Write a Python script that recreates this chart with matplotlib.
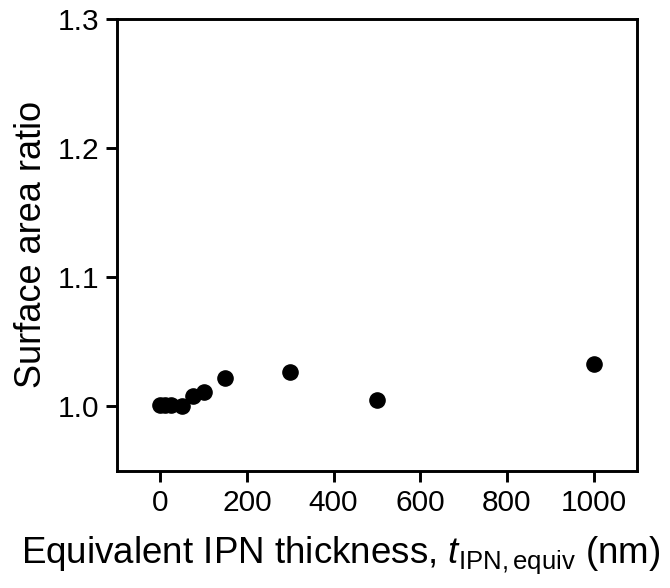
import matplotlib
matplotlib.use("Agg")
import matplotlib.pyplot as plt

plt.rcParams['font.family'] = ['Liberation Sans', 'DejaVu Sans']
plt.rcParams['mathtext.fontset'] = 'custom'
plt.rcParams['mathtext.rm'] = 'Liberation Sans'
plt.rcParams['mathtext.it'] = 'Liberation Sans:italic'

# Data
thickness = [0, 10, 25, 50, 75, 100, 150, 300, 500, 1000]
area_ratio = [1.001, 1.001, 1.001, 1.000, 1.008, 1.011, 1.022, 1.027, 1.005, 1.033]
x_ticks = [0, 200, 400, 600, 800, 1000]
y_ticks = [1.0, 1.1, 1.2, 1.3]

fig = plt.figure(figsize=(6.7, 5.88), dpi=100)
ax = fig.add_axes([0.1746, 0.199, 0.776, 0.769])

ax.scatter(thickness, area_ratio, s=120, color='black', zorder=3)

ax.set_xlim(-100, 1100)
ax.set_ylim(0.95, 1.3)
ax.set_xticks(x_ticks)
ax.set_yticks(y_ticks)
ax.set_yticklabels([f"{v:.1f}" for v in y_ticks])

for sp in ax.spines.values():
    sp.set_linewidth(2.1)
ax.tick_params(direction='out', length=8, width=2.1, labelsize=21.5, pad=5)

ax.set_xlabel(r"Equivalent IPN thickness, $\mathit{t}_{\mathrm{IPN,equiv}}$ (nm)", fontsize=26.5)
ax.xaxis.set_label_coords(0.43, -0.14)
ax.set_ylabel("Surface area ratio", fontsize=26, labelpad=6)

fig.savefig("out.png", dpi=100)
